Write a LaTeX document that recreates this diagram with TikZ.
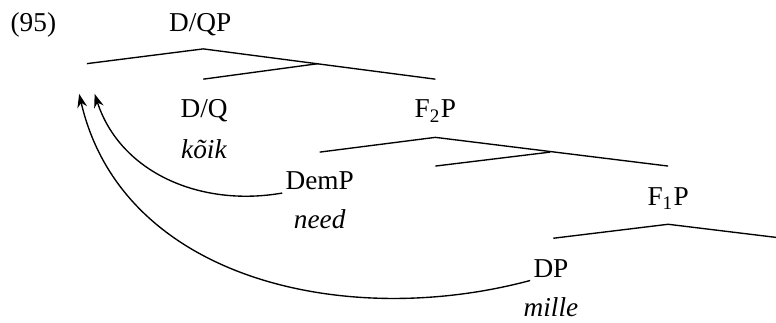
\documentclass[tikz,border=0pt]{standalone}
\usepackage{fontspec}
\setmainfont{Liberation Serif}
\usepackage{tikz}
\usetikzlibrary{shapes,arrows.meta}

\begin{document}
\begin{tikzpicture}[line width=0.5pt, lbl/.style={inner sep=1pt, anchor=base}, mv/.style={-{Stealth[length=5pt,width=3.6pt]}}]
\useasboundingbox (0,0) rectangle (10,-4.15);
\node[lbl] (ex) at (0.43,-0.40) {(95)};
% top level
\node[lbl] (dqp) at (2.58,-0.41) {D/QP};
\coordinate (r0) at (2.62,-0.63);
\coordinate (r1) at (1.12,-0.82);
\coordinate (r2) at (5.61,-1.02);
\coordinate (r3) at (4.10,-0.82);
\coordinate (r4) at (2.62,-1.02);
\draw (r1) -- (r0) -- (r2);
\draw (r4) -- (r3);
\node[lbl] (dq) at (2.63,-1.52) {D/Q};
\node[lbl] (koik) at (2.63,-2.04) {\textit{kõik}};
% F2P
\node[lbl] (f2p) at (5.61,-1.52) {F\textsubscript{2}P};
\coordinate (f0) at (5.61,-1.77);
\coordinate (f1) at (4.12,-1.96);
\coordinate (f2) at (8.61,-2.14);
\coordinate (f3) at (7.09,-1.96);
\coordinate (f4) at (5.61,-2.14);
\draw (f1) -- (f0) -- (f2);
\draw (f4) -- (f3);
\node[lbl] (demp) at (4.12,-2.44) {DemP};
\node[lbl] (need) at (4.12,-2.95) {\textit{need}};
% F1P
\node[lbl] (f1p) at (8.61,-2.65) {F\textsubscript{1}P};
\coordinate (g0) at (8.61,-2.89);
\coordinate (g1) at (7.13,-3.07);
\coordinate (g2) at (10.09,-3.07);
\draw (g1) -- (g0) -- (g2);
\node[lbl] (dp) at (7.10,-3.57) {DP};
\node[lbl] (mille) at (7.10,-4.08) {\textit{mille}};
% movement
\coordinate (t1) at (1.22,-1.21);
\coordinate (t2) at (1.02,-1.21);
\draw[mv] (demp.south west) to[out=190,in=-72] (t1);
\draw[mv] (dp.south west) to[out=195,in=-77] (t2);
\end{tikzpicture}
\end{document}
